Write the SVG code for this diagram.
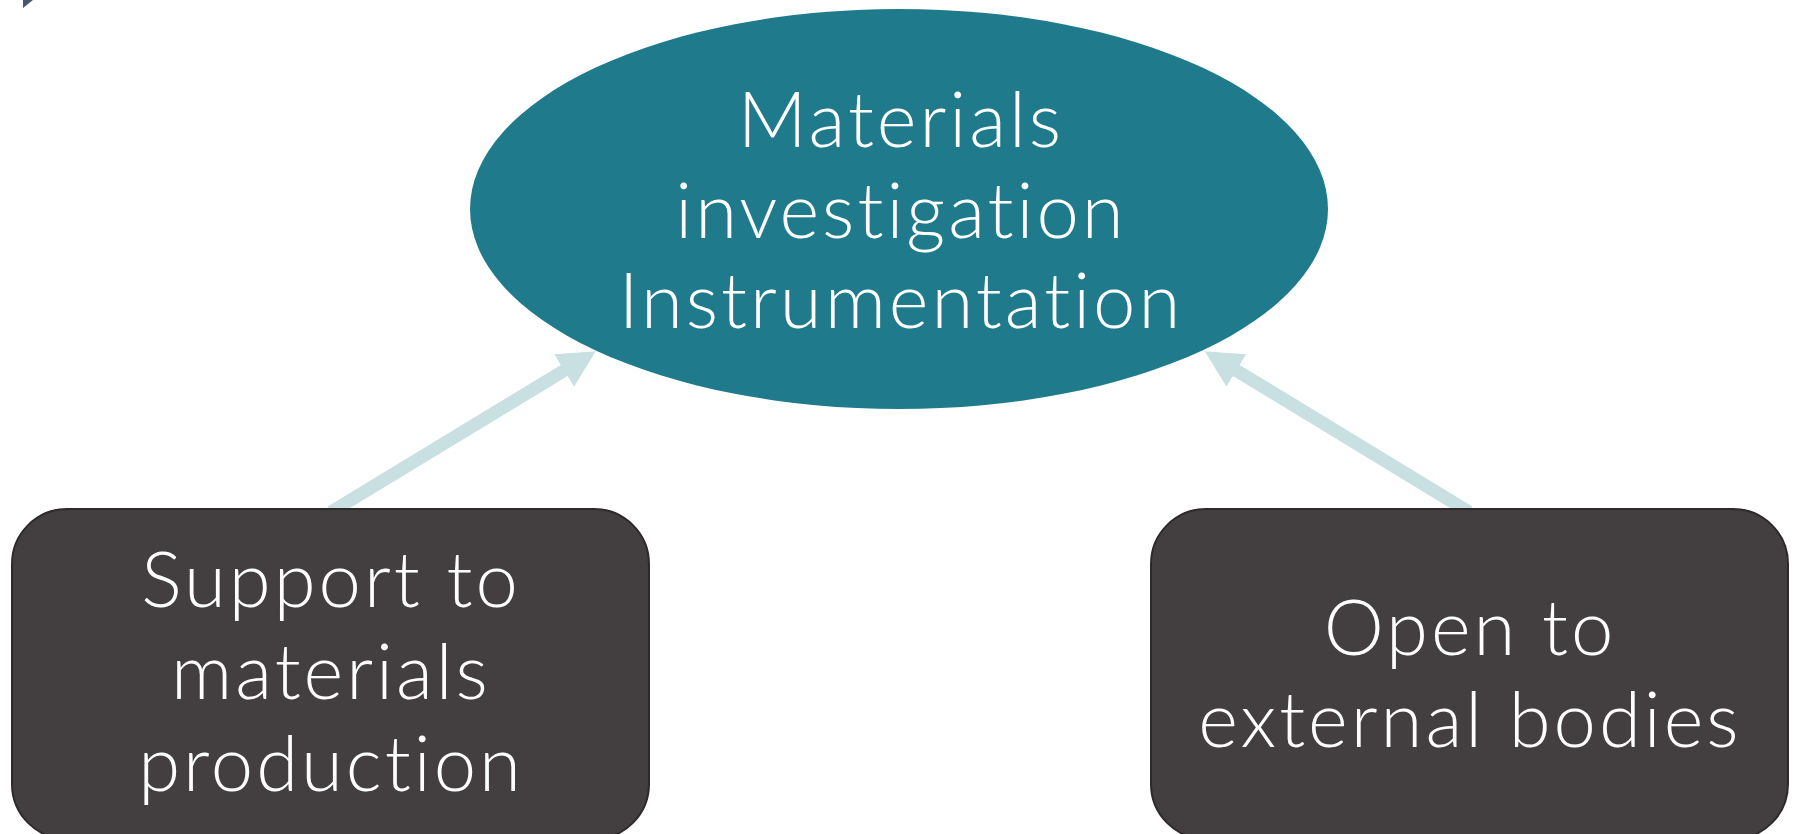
<svg xmlns="http://www.w3.org/2000/svg" width="1797" height="834" viewBox="0 0 1797 834">
<style>
.lbl{font-family:"Lato","Noto Sans","Liberation Sans",sans-serif;font-weight:300;fill:#ffffff;text-anchor:middle;font-size:76px;letter-spacing:3px;font-variant-ligatures:none;font-feature-settings:"liga" 0,"clig" 0}
.box{fill:#433e3f;stroke:#2e2a2b;stroke-width:2}
.conn{stroke:#c8e0e1;stroke-width:13;fill:none}
</style>
<defs>
<marker id="ah" markerUnits="userSpaceOnUse" markerWidth="44" markerHeight="44" viewBox="0 -22 44 44" refX="1" refY="0" orient="auto">
<path d="M0,-19 L37,0 L0,19 z" fill="#c8e0e1"/>
</marker>
</defs>
<rect width="1797" height="834" fill="#ffffff"/>
<polygon points="23,0 33,0 23,8" fill="#45566e"/>
<g id="connectors">
<line class="conn" x1="331" y1="512" x2="565" y2="370" marker-end="url(#ah)"/>
<line class="conn" x1="1469" y1="512" x2="1235.5" y2="370" marker-end="url(#ah)"/>
</g>
<g id="node-center">
<ellipse cx="899" cy="209" rx="429" ry="200" fill="#1f7b8c"/>
<text class="lbl" x="901" y="147">Materials</text>
<text class="lbl" x="901" y="238">investigation</text>
<text class="lbl" x="901" y="328">Instrumentation</text>
</g>
<g id="node-left">
<rect class="box" x="12" y="509" width="637" height="330" rx="55" ry="55"/>
<text class="lbl" x="331" y="607">Support to</text>
<text class="lbl" x="331" y="699">materials</text>
<text class="lbl" x="331" y="791">production</text>
</g>
<g id="node-right">
<rect class="box" x="1151" y="509" width="637" height="330" rx="55" ry="55"/>
<text class="lbl" x="1470" y="655">Open to</text>
<text class="lbl" x="1470" y="747">external bodies</text>
</g>
</svg>
